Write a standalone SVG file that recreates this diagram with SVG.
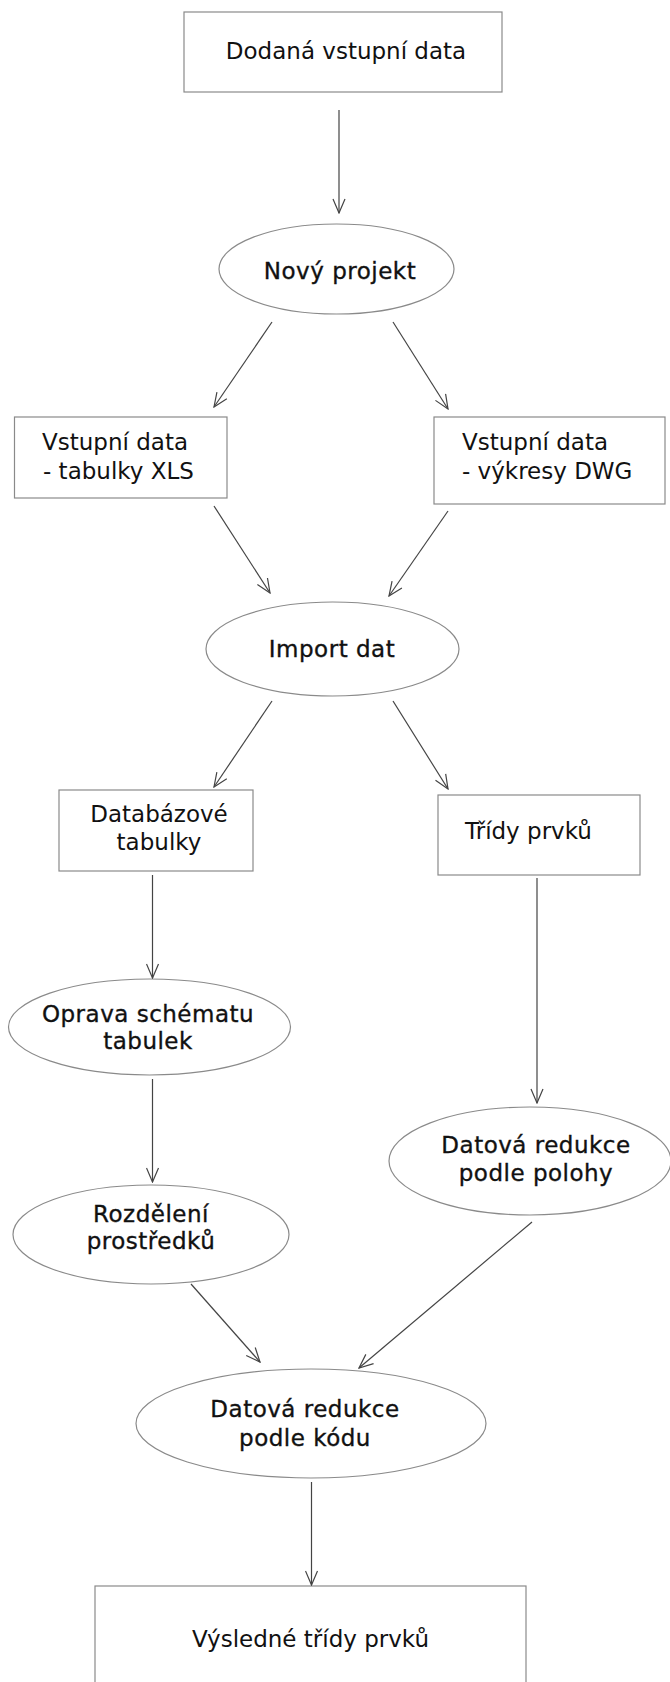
<svg xmlns="http://www.w3.org/2000/svg" width="670" height="1682" viewBox="0 0 670 1682">
<style>
.n{fill:#fff;stroke:#8a8a8a;stroke-width:1.2}
.t{font-family:"DejaVu Sans",Verdana,sans-serif;font-size:23px;fill:#111}
.e{stroke:#111;stroke-width:0.35;letter-spacing:0.5px}
.m{text-anchor:middle}
.c{fill:none;stroke:#444;stroke-width:1.2}
</style>
<defs>
<marker id="a" viewBox="-15 -7 16 14" refX="0" refY="0" markerWidth="16" markerHeight="14" orient="auto" markerUnits="userSpaceOnUse">
<path d="M-14,-6 L0,0 L-14,6" fill="none" stroke="#444" stroke-width="1.2"/>
</marker>
</defs>
<g id="n1"><rect class="n" x="184" y="12" width="318" height="80"/><text class="t m" x="346" y="59">Dodaná vstupní data</text></g>
<g id="n2"><ellipse class="n" cx="336.5" cy="269" rx="117.5" ry="45"/><text class="t e m" x="340" y="279">Nový projekt</text></g>
<g id="n3"><rect class="n" x="14.5" y="417" width="212.5" height="81"/><text class="t" x="42" y="450">Vstupní data</text><text class="t" x="43" y="479">- tabulky XLS</text></g>
<g id="n4"><rect class="n" x="434" y="417" width="231" height="87"/><text class="t" x="462" y="450">Vstupní data</text><text class="t" x="462" y="479">- výkresy DWG</text></g>
<g id="n5"><ellipse class="n" cx="332.5" cy="649" rx="126.5" ry="47"/><text class="t e m" x="332" y="657">Import dat</text></g>
<g id="n6"><rect class="n" x="59" y="790" width="194" height="81"/><text class="t m" x="159" y="822">Databázové</text><text class="t m" x="159" y="850">tabulky</text></g>
<g id="n7"><rect class="n" x="438" y="795" width="202" height="80"/><text class="t" x="465" y="839">Třídy prvků</text></g>
<g id="n8"><ellipse class="n" cx="149.5" cy="1027" rx="141" ry="48"/><text class="t e m" x="148" y="1022">Oprava schématu</text><text class="t e m" x="148" y="1049">tabulek</text></g>
<g id="n9"><ellipse class="n" cx="530" cy="1161" rx="141" ry="54"/><text class="t e m" x="536" y="1153">Datová redukce</text><text class="t e m" x="536" y="1181">podle polohy</text></g>
<g id="n10"><ellipse class="n" cx="151" cy="1234.5" rx="138" ry="49.5"/><text class="t e m" x="151" y="1222">Rozdělení</text><text class="t e m" x="151" y="1249">prostředků</text></g>
<g id="n11"><ellipse class="n" cx="311" cy="1423.5" rx="175" ry="54.5"/><text class="t e m" x="305" y="1417">Datová redukce</text><text class="t e m" x="305" y="1446">podle kódu</text></g>
<g id="n12"><rect class="n" x="95" y="1586" width="431" height="120"/><text class="t m" x="310.5" y="1647">Výsledné třídy prvků</text></g>
<g id="connectors">
<line class="c" x1="339" y1="110" x2="339" y2="213" marker-end="url(#a)"/>
<line class="c" x1="272" y1="322" x2="214" y2="407" marker-end="url(#a)"/>
<line class="c" x1="393" y1="322" x2="448" y2="409" marker-end="url(#a)"/>
<line class="c" x1="214" y1="506" x2="270" y2="593" marker-end="url(#a)"/>
<line class="c" x1="448" y1="511" x2="389" y2="596" marker-end="url(#a)"/>
<line class="c" x1="272" y1="701" x2="214" y2="787" marker-end="url(#a)"/>
<line class="c" x1="393" y1="701" x2="448" y2="789" marker-end="url(#a)"/>
<line class="c" x1="152.5" y1="875" x2="152.5" y2="978" marker-end="url(#a)"/>
<line class="c" x1="152.5" y1="1079" x2="152.5" y2="1182" marker-end="url(#a)"/>
<line class="c" x1="537" y1="878" x2="537" y2="1103" marker-end="url(#a)"/>
<line class="c" x1="191" y1="1284" x2="260" y2="1362" marker-end="url(#a)"/>
<line class="c" x1="532" y1="1222" x2="359" y2="1368" marker-end="url(#a)"/>
<line class="c" x1="311.5" y1="1482" x2="311.5" y2="1585" marker-end="url(#a)"/>
</g>
</svg>
